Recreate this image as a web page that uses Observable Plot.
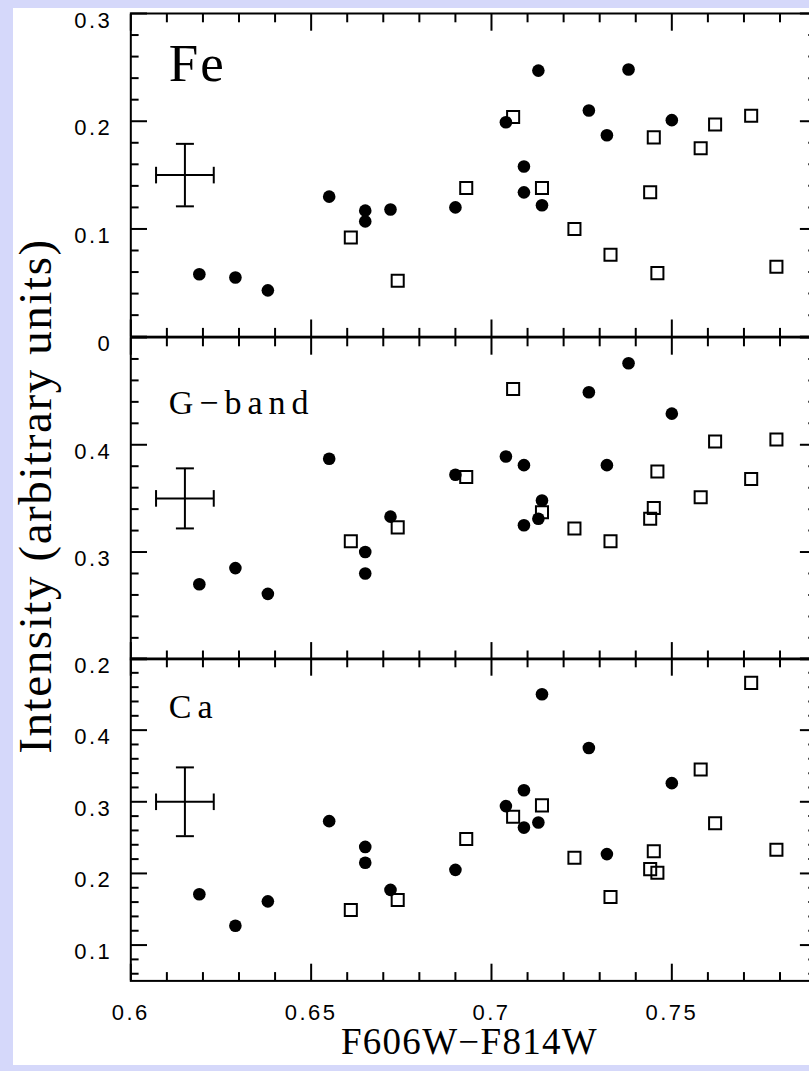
<!DOCTYPE html>
<html><head><meta charset="utf-8">
<script src="https://cdn.jsdelivr.net/npm/d3@7"></script>
<script src="https://cdn.jsdelivr.net/npm/@observablehq/plot@0.6"></script>
<style>
html,body{margin:0;padding:0;}
body{width:809px;height:1071px;overflow:hidden;background:#d5d8fa;position:relative;}
#card{position:absolute;left:13px;top:8px;width:796px;height:1057px;background:#fff;overflow:hidden;}
#card svg{position:absolute;overflow:visible;max-width:none;}
g[aria-description="tick-label"] text{letter-spacing:2.5px;font-size:22px;font-family:"Liberation Sans",Arial,sans-serif;}
g[aria-description="panel-label"] text{letter-spacing:6px}
g[aria-description="panel-label-fe"] text{letter-spacing:2px}
g[aria-description="x-title"] text{letter-spacing:1.3px}
g[aria-description="y-title"] text{letter-spacing:1.6px}
</style>
</head><body><div id="card"></div>
<script>
// ---- data ----
const xStarsFilled = [0.619,0.629,0.638,0.655,0.665,0.665,0.672,0.690,0.704,0.709,0.709,0.713,0.714,0.727,0.732,0.738,0.750];
const feFilled     = [0.058,0.055,0.043,0.130,0.117,0.107,0.118,0.120,0.199,0.158,0.134,0.247,0.122,0.210,0.187,0.248,0.201];
const gbandFilled  = [0.270,0.285,0.261,0.387,0.300,0.280,0.333,0.372,0.389,0.381,0.325,0.331,0.348,0.449,0.381,0.476,0.429];
const caFilled     = [0.171,0.127,0.161,0.273,0.237,0.215,0.177,0.205,0.294,0.316,0.264,0.271,0.450,0.375,0.227,null,0.326];

const xStarsOpen = [0.661,0.674,0.693,0.706,0.714,0.723,0.733,0.744,0.745,0.746,0.758,0.762,0.772,0.779];
const feOpen     = [0.092,0.052,0.138,0.204,0.138,0.100,0.076,0.134,0.185,0.059,0.175,0.197,0.205,0.065];
const gbandOpen  = [0.310,0.323,0.370,0.452,0.337,0.322,0.310,0.331,0.341,0.375,0.351,0.403,0.368,0.405];
const caOpen     = [0.149,0.163,0.248,0.279,0.295,0.222,0.167,0.206,0.231,0.201,0.345,0.270,0.466,0.233];

const panelLabels = ["Fe", "G\u2212band", "Ca"];
const yDomains = [[0, 0.3], [0.2, 0.5], [0.05, 0.5]];
const yMajorTicks = [[0, 0.1, 0.2, 0.3], [0.2, 0.3, 0.4, 0.5], [0.1, 0.2, 0.3, 0.4, 0.5]];
const yTickLabels = [[0, 0.1, 0.2, 0.3], [0.2, 0.3, 0.4], [0.1, 0.2, 0.3, 0.4]];
const xDomain = [0.6, 0.79];
const xMajorTicks = [0.6, 0.65, 0.7, 0.75];
const errX = [0.615, 0.615, 0.615];
const errXHalf = [0.008, 0.008, 0.008];
const errY = [0.15, 0.35, 0.30];
const errYHalf = [0.029, 0.028, 0.048];
const xTitle = "F606W\u2212F814W";
const yTitle = "Intensity (arbitrary units)";

// ---- layout (page pixels) ----
const panelTop = [13.3, 336.5, 658.3];
const panelBottom = [336.5, 658.3, 980.7];
const labelDy = [29.5, 52.1, 35.7];
const labelSize = [53, 34, 34];

const filledSets = [feFilled, gbandFilled, caFilled];
const openSets = [feOpen, gbandOpen, caOpen];

// minor ticks every 0.01 (x) and 0.02 (y), skipping majors
const xMinor = d3.range(61, 79).filter(k => k % 5 !== 0).map(k => k / 100);
function yMinor([lo, hi]) {
  const out = [];
  for (let k = Math.ceil(lo * 50 - 1e-9); k <= Math.floor(hi * 50 + 1e-9); k++) if (k % 5 !== 0) out.push(k / 50);
  return out;
}

// custom cap symbols for the error bars
const vCap = {draw(ctx, size) { const r = Math.sqrt(size / Math.PI); ctx.moveTo(0, -r); ctx.lineTo(0, r); }};
const hCap = {draw(ctx, size) { const r = Math.sqrt(size / Math.PI); ctx.moveTo(-r, 0); ctx.lineTo(r, 0); }};

const card = document.getElementById("card");
const MAJ = 16.7, MIN = 8.3, SW = 2;

for (let i = 0; i < 3; i++) {
  const mt = 30, mb = i === 2 ? 100 : 30;
  const h = panelBottom[i] - panelTop[i];
  const filled = xStarsFilled.map((x, j) => ({x, y: filledSets[i][j]})).filter(d => d.y != null);
  const open = xStarsOpen.map((x, j) => ({x, y: openSets[i][j]})).filter(d => d.y != null);
  const err = [{x: errX[i], y: errY[i], xe: errXHalf[i], ye: errYHalf[i]}];
  const minorY = yMinor(yDomains[i]);

  const tickOpts = {fill: "none", stroke: "black", strokeWidth: SW, label: null};
  const marks = [
    Plot.axisY({...tickOpts, anchor: "left", ticks: yMajorTicks[i], tickSize: -MAJ}),
    Plot.axisY({...tickOpts, anchor: "left", ticks: minorY, tickSize: -MIN}),
    Plot.axisY({...tickOpts, anchor: "right", ticks: yMajorTicks[i], tickSize: -MAJ}),
    Plot.axisY({...tickOpts, anchor: "right", ticks: minorY, tickSize: -MIN}),
    Plot.axisX({...tickOpts, anchor: "bottom", ticks: xMajorTicks, tickSize: -MAJ}),
    Plot.axisX({...tickOpts, anchor: "bottom", ticks: xMinor, tickSize: -MIN}),
    Plot.axisX({...tickOpts, anchor: "top", ticks: xMajorTicks, tickSize: -MAJ}),
    Plot.axisX({...tickOpts, anchor: "top", ticks: xMinor, tickSize: -MIN}),
    Plot.axisY({anchor: "left", ticks: yTickLabels[i], tickSize: 0, tickPadding: 18.5, dy: 7,
      tickFormat: d => d === 0 ? "0" : d.toFixed(1), fontSize: 22, fontFamily: "Liberation Sans", fill: "black",
      label: null, ariaDescription: "tick-label"}),
    Plot.frame({stroke: "black", strokeWidth: SW}),
    // error bar cross
    Plot.ruleY(err, {y: "y", x1: d => d.x - d.xe, x2: d => d.x + d.xe, stroke: "black", strokeWidth: SW}),
    Plot.ruleX(err, {x: "x", y1: d => d.y - d.ye, y2: d => d.y + d.ye, stroke: "black", strokeWidth: SW}),
    Plot.dot(err, {x: d => d.x - d.xe, y: "y", symbol: vCap, r: 8.3, stroke: "black", strokeWidth: SW}),
    Plot.dot(err, {x: d => d.x + d.xe, y: "y", symbol: vCap, r: 8.3, stroke: "black", strokeWidth: SW}),
    Plot.dot(err, {x: "x", y: d => d.y - d.ye, symbol: hCap, r: 9, stroke: "black", strokeWidth: SW}),
    Plot.dot(err, {x: "x", y: d => d.y + d.ye, symbol: hCap, r: 9, stroke: "black", strokeWidth: SW}),
    // data
    Plot.dot(open, {x: "x", y: "y", symbol: "square", r: 6.8, fill: "none", stroke: "black", strokeWidth: SW}),
    Plot.dot(filled, {x: "x", y: "y", symbol: "circle", r: 6.3, fill: "black"}),
    // panel label
    Plot.text([panelLabels[i]], {frameAnchor: "top-left", textAnchor: "start", lineAnchor: "top",
      dx: 38, dy: labelDy[i], fontSize: labelSize[i], fontFamily: "Liberation Serif", fill: "black",
      ariaDescription: i === 0 ? "panel-label-fe" : "panel-label"})
  ];
  if (i === 2) {
    marks.push(Plot.axisX({anchor: "bottom", ticks: xMajorTicks, tickSize: 0, tickPadding: 23,
      tickFormat: d => String(d), fontSize: 22, fontFamily: "Liberation Sans", fill: "black",
      label: null, ariaDescription: "tick-label"}));
    marks.push(Plot.text([xTitle], {frameAnchor: "bottom", textAnchor: "middle", dx: -4, dy: 73.5, fontSize: 37,
      fontFamily: "Liberation Serif", fill: "black", ariaDescription: "x-title"}));
  }
  if (i === 1) {
    marks.push(Plot.text([yTitle], {frameAnchor: "left", textAnchor: "middle", rotate: -90, dx: -94.5, dy: -2.4,
      fontSize: 47, fontFamily: "Liberation Serif", fill: "black", ariaDescription: "y-title"}));
  }

  const svg = Plot.plot({
    width: 840,
    height: mt + h + mb,
    marginLeft: 130.3,
    marginRight: 840 - 815.6,
    marginTop: mt,
    marginBottom: mb,
    x: {domain: xDomain, axis: null, label: null},
    y: {domain: yDomains[i], axis: null, label: null},
    style: {background: "transparent", overflow: "visible", maxWidth: "none", color: "black"},
    marks
  });
  svg.style.left = (-13) + "px";
  svg.style.top = (panelTop[i] - mt - 8) + "px";
  card.appendChild(svg);
}
</script></body></html>
